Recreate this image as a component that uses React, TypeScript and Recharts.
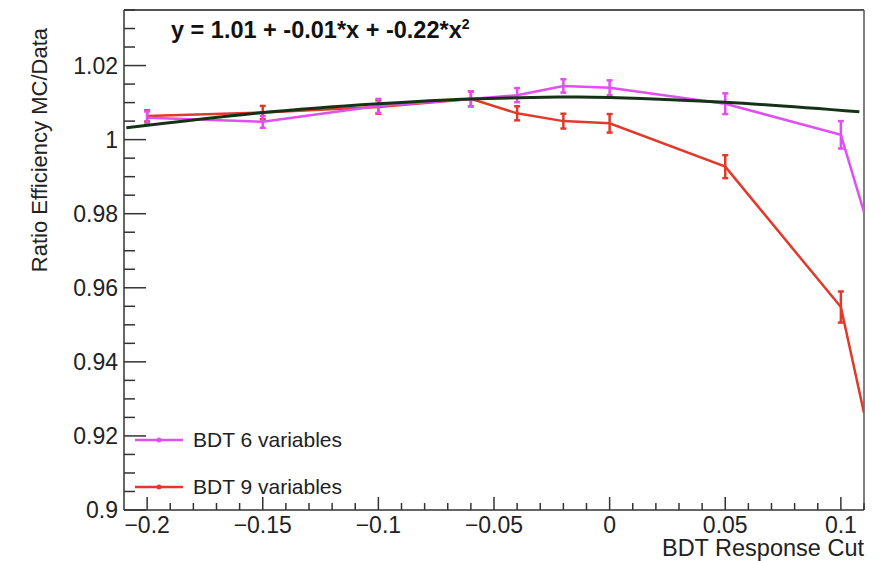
import { ComposedChart, Line, XAxis, YAxis, ErrorBar, ReferenceLine } from 'recharts'

// BDT response cut values
const cuts = [-0.2, -0.15, -0.1, -0.06, -0.04, -0.02, 0, 0.05, 0.1, 0.11]

// ratio MC/Data for each cut
const bdt6 = [1.0059, 1.0048, 1.0091, 1.011, 1.012, 1.0145, 1.014, 1.0097, 1.0013, 0.9804]
const bdt6Err = [0.0017, 0.0016, 0.0019, 0.002, 0.0019, 0.0018, 0.002, 0.0028, 0.0037, 0]
const bdt9 = [1.0064, 1.0073, 1.0088, 1.011, 1.0071, 1.005, 1.0044, 0.9927, 0.9548, 0.9262]
const bdt9Err = [0.0015, 0.0018, 0.0018, 0.002, 0.0019, 0.002, 0.0025, 0.0031, 0.0042, 0]

// fitted curve
const fitX = [-0.209, -0.15, -0.1, -0.06, -0.02, 0, 0.05, 0.108]
const fitY = [1.0032, 1.0073, 1.0097, 1.011, 1.0115, 1.0114, 1.0101, 1.0075]

const xMajor = [-0.2, -0.15, -0.1, -0.05, 0, 0.05, 0.1]
const yMajor = [0.9, 0.92, 0.94, 0.96, 0.98, 1, 1.02]

const X_DOMAIN: [number, number] = [-0.21, 0.11]
const Y_DOMAIN: [number, number] = [0.9, 1.035]

const MAGENTA = '#e04ff0'
const RED = '#e03a2b'
const FIT = '#163216'
const AXIS = '#333'
const FONT = '"Liberation Sans", Arial, Helvetica, sans-serif'

// minor ticks every 0.01 on x and 0.005 on y
const xTicks: number[] = []
for (let i = -20; i <= 11; i++) xTicks.push(+(i / 100).toFixed(2))
const yTicks: number[] = []
for (let i = 180; i <= 207; i++) yTicks.push(+(i / 200).toFixed(3))

const data = cuts.map((x, i) => ({
  x,
  bdt6: bdt6[i],
  bdt6Err: bdt6Err[i],
  bdt9: bdt9[i],
  bdt9Err: bdt9Err[i],
}))
const fitData = fitX.map((x, i) => ({ x, fit: fitY[i] }))

const isIn = (v: number, list: number[]) => list.some((m) => Math.abs(m - v) < 1e-6)
const fmt = (v: number) => String(+v.toFixed(3)).replace('-', '\u2212')

const XTick = ({ x, y, payload }: any) => {
  const major = isIn(payload.value, xMajor)
  return (
    <g>
      <line x1={x} x2={x} y1={y} y2={y - (major ? 13 : 7)} stroke={AXIS} strokeWidth={1.5} />
      {major && (
        <text x={x} y={y + 23} textAnchor="middle" fontSize={23} fill="#222" fontFamily={FONT}>
          {fmt(payload.value)}
        </text>
      )}
    </g>
  )
}

const YTick = ({ x, y, payload }: any) => {
  const major = isIn(payload.value, yMajor)
  return (
    <g>
      <line x1={x} x2={x + (major ? 22 : 11)} y1={y} y2={y} stroke={AXIS} strokeWidth={1.5} />
      {major && (
        <text x={x - 6} y={y} dy="0.36em" textAnchor="end" fontSize={23} fill="#222" fontFamily={FONT}>
          {fmt(payload.value)}
        </text>
      )}
    </g>
  )
}

const legendItems = [
  { name: 'BDT 6 variables', color: MAGENTA },
  { name: 'BDT 9 variables', color: RED },
]

export default function App() {
  return (
    <div style={{ position: 'absolute', left: 0, top: 0, width: 891, height: 561, background: '#fff' }}>
      <ComposedChart width={891} height={561} margin={{ top: 10, right: 27, bottom: 0, left: 0 }}>
        <XAxis
          type="number"
          dataKey="x"
          domain={X_DOMAIN}
          ticks={xTicks}
          interval={0}
          allowDataOverflow
          height={51}
          tickSize={0}
          tickMargin={0}
          tickLine={false}
          axisLine={{ stroke: AXIS, strokeWidth: 1.5 }}
          tick={<XTick />}
          label={{
            value: 'BDT Response Cut',
            content: () => (
              <text x={864} y={556} textAnchor="end" fontSize={23.5} fill="#222" fontFamily={FONT}>
                BDT Response Cut
              </text>
            ),
          }}
        />
        <YAxis
          type="number"
          domain={Y_DOMAIN}
          ticks={yTicks}
          interval={0}
          allowDataOverflow
          width={124}
          tickSize={0}
          tickMargin={0}
          tickLine={false}
          axisLine={{ stroke: AXIS, strokeWidth: 1.5 }}
          tick={<YTick />}
          label={{
            value: 'Ratio Efficiency MC/Data',
            content: () => (
              <text
                transform="translate(47, 28) rotate(-90)"
                textAnchor="end"
                fontSize={22}
                fill="#222"
                fontFamily={FONT}
              >
                Ratio Efficiency MC/Data
              </text>
            ),
          }}
        />
        <ReferenceLine y={Y_DOMAIN[1]} stroke="#555" strokeWidth={2} />
        <ReferenceLine x={X_DOMAIN[1]} stroke="#555" strokeWidth={1.5} />

        <Line
          data={data}
          dataKey="bdt9"
          name="BDT 9 variables"
          stroke={RED}
          strokeWidth={2.5}
          dot={false}
          isAnimationActive={false}
        >
          <ErrorBar dataKey="bdt9Err" direction="y" width={3} stroke={RED} strokeWidth={2.5} />
        </Line>
        <Line
          data={data}
          dataKey="bdt6"
          name="BDT 6 variables"
          stroke={MAGENTA}
          strokeWidth={2.5}
          dot={false}
          isAnimationActive={false}
        >
          <ErrorBar dataKey="bdt6Err" direction="y" width={3} stroke={MAGENTA} strokeWidth={2.5} />
        </Line>
        <Line
          data={fitData}
          dataKey="fit"
          type="natural"
          stroke={FIT}
          strokeWidth={3}
          dot={false}
          legendType="none"
          isAnimationActive={false}
        />
      </ComposedChart>

      {/* legend box, bottom left inside the frame */}
      <div style={{ position: 'absolute', left: 135, top: 416, fontFamily: FONT }}>
        {legendItems.map((item) => (
          <div key={item.name} style={{ display: 'flex', alignItems: 'center', height: 47 }}>
            <svg width={58} height={10}>
              <line x1={0} x2={48} y1={5} y2={5} stroke={item.color} strokeWidth={2.5} />
              <circle cx={24} cy={5} r={2.5} fill={item.color} />
            </svg>
            <span style={{ fontSize: 21, color: '#222' }}>{item.name}</span>
          </div>
        ))}
      </div>

      <div
        style={{
          position: 'absolute',
          left: 171,
          top: 16,
          fontFamily: FONT,
          fontWeight: 'bold',
          fontSize: 23.5,
          color: '#111',
          whiteSpace: 'nowrap',
        }}
      >
        y = 1.01 + -0.01*x + -0.22*x<sup style={{ fontSize: 14 }}>2</sup>
      </div>
    </div>
  )
}
